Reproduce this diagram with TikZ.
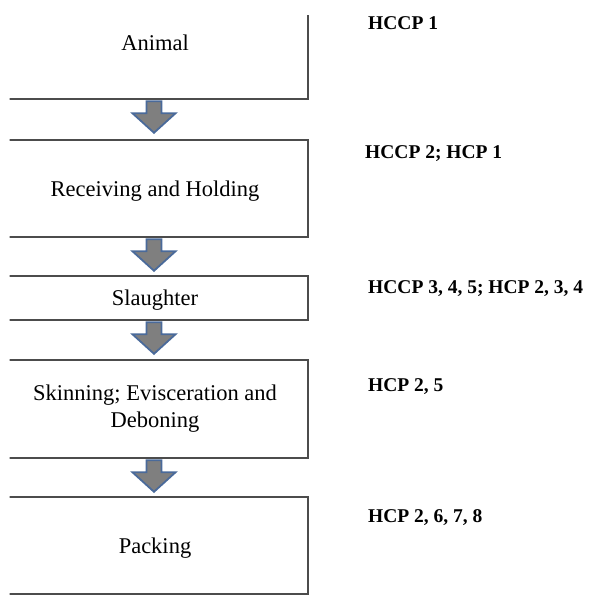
\documentclass[tikz,border=0pt]{standalone}
\usepackage{fontspec}
\setmainfont{Liberation Serif}
\usepackage{tikz}

\definecolor{arrowgray}{HTML}{7F7F7F}
\definecolor{arrowblue}{HTML}{4A6A9A}

\newcommand{\stagearrow}[1]{%
  \draw[flowarrow] (#1.south) ++(-8.5,1.5) -- ++(0,12) -- ++(-14,0) -- ++(21.5,19.5) -- ++(21.5,-19.5) -- ++(-14,0) -- ++(0,-12) -- cycle;}

\begin{document}
\begin{tikzpicture}[x=1pt,y=-1pt,
    stage/.style={draw=black!70,line width=1.6pt,minimum width=306pt,inner sep=2pt,
      font=\fontsize{22.5}{27}\selectfont},
    onerow/.style={text height=15pt,text depth=0pt},
    note/.style={anchor=base west,inner sep=0pt,font=\fontsize{19.5}{23}\bfseries\selectfont},
    flowarrow/.style={fill=arrowgray,draw=arrowblue,line width=1.8pt,line join=miter}]

      \useasboundingbox (0,0) rectangle (590,596);
      \clip (9.5,16) rectangle (590,596);

      \node[stage,onerow,minimum height=112pt] (animal) at (155,43){Animal};
      \node[stage,onerow,minimum height=97pt] (receiving) at (155,188.5){Receiving and Holding};
      \node[stage,onerow,minimum height=44pt] (slaughter) at (155,298){Slaughter};
      \node[stage,align=center,minimum height=98pt] (skinning) at (155,409){Skinning; Evisceration and\\Deboning};
      \node[stage,onerow,minimum height=97pt] (packing) at (155,545.5){Packing};

      \node[note] (n1) at (368,30){HCCP 1};
      \node[note] (n2) at (365,159){HCCP 2; HCP 1};
      \node[note] (n3) at (368,293){HCCP 3, 4, 5; HCP 2, 3, 4};
      \node[note] (n4) at (368,391){HCP 2, 5};
      \node[note] (n5) at (368,522){HCP 2, 6, 7, 8};

      \stagearrow{animal}
      \stagearrow{receiving}
      \stagearrow{slaughter}
      \stagearrow{skinning}
    \end{tikzpicture}
\end{document}
